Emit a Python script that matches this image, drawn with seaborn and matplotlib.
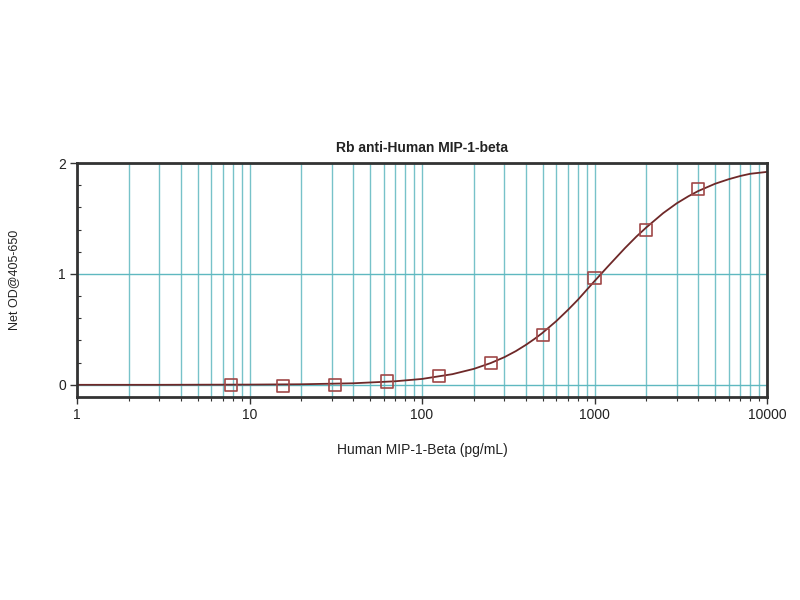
import matplotlib
matplotlib.use("Agg")
import matplotlib.pyplot as plt
import seaborn as sns
import pandas as pd
import numpy as np
from matplotlib.ticker import LogLocator, FixedLocator, MultipleLocator, NullFormatter

# Standard points (concentration pg/mL, net OD)
conc = [7.8, 15.6, 31.25, 62.5, 125, 250, 500, 1000, 2000, 4000]
od = [0.00, -0.01, 0.00, 0.03, 0.08, 0.20, 0.445, 0.96, 1.40, 1.77]

# Fitted curve
curve_x = [1, 2, 3, 5, 10, 20, 40, 70, 100, 150, 200, 250, 300, 350, 400, 450, 500,
           600, 700, 800, 1000, 1200, 1500, 1750, 2000, 2500, 3000, 3500, 4000,
           5000, 6000, 7000, 8000, 10000]
curve_y = [0.000, 0.000, 0.000, 0.001, 0.002, 0.005, 0.014, 0.032, 0.053, 0.096,
           0.144, 0.196, 0.249, 0.304, 0.360, 0.415, 0.469, 0.574, 0.674, 0.766,
           0.935, 1.070, 1.232, 1.337, 1.420, 1.548, 1.637, 1.700, 1.748, 1.813,
           1.854, 1.883, 1.903, 1.920]

title = "Rb anti-Human MIP-1-beta"
xlabel = "Human MIP-1-Beta (pg/mL)"
ylabel = "Net OD@405-650"

sns.set_theme(style="white")
plt.rcParams['font.family'] = ['Liberation Sans', 'DejaVu Sans']

fig = plt.figure(figsize=(8, 6), dpi=100)
ax = fig.add_axes([0.09625, 0.3383, 0.8625, 0.3900])

ax.set_xscale("log")
ax.set_xlim(1, 10000)
ax.set_ylim(-0.11, 2.0)

grid_col = "#5fb8c0"
ax.xaxis.set_major_locator(LogLocator(base=10, numticks=10))
ax.xaxis.set_minor_locator(LogLocator(base=10, subs=np.arange(2, 10), numticks=20))
ax.xaxis.set_minor_formatter(NullFormatter())
ax.yaxis.set_major_locator(FixedLocator([0, 1, 2]))
ax.yaxis.set_minor_locator(MultipleLocator(0.2))
ax.grid(True, which="both", axis="x", color=grid_col, linewidth=1.0, alpha=0.85)
ax.grid(True, which="major", axis="y", color=grid_col, linewidth=1.0)
ax.set_axisbelow(True)

curve_df = pd.DataFrame({"x": curve_x, "y": curve_y})
pts_df = pd.DataFrame({"x": conc, "y": od})
sns.lineplot(data=curve_df, x="x", y="y", ax=ax, color="#6e2828", linewidth=1.3)
sns.scatterplot(data=pts_df, x="x", y="y", ax=ax, marker="s", s=75,
                facecolor="none", edgecolor="#a04848", linewidth=1.2, zorder=5)

ax.xaxis.set_major_formatter(matplotlib.ticker.FuncFormatter(lambda v, p: f"{int(round(v))}"))

for s in ax.spines.values():
    s.set_color("#333333")
    s.set_linewidth(2.0)

ax.tick_params(axis="both", which="major", direction="out", length=5, width=1,
               color="#333333", labelsize=10, labelcolor="#222222", pad=3,
               bottom=True, left=True)
ax.tick_params(axis="x", which="minor", direction="out", length=3, width=0.8,
               color="#333333", bottom=True)
ax.tick_params(axis="y", which="minor", direction="in", length=3, width=0.8,
               color="#333333", left=True)

ax.set_title(title, fontsize=10, fontweight="bold", color="#222222", pad=8)
ax.set_xlabel(xlabel, fontsize=10, color="#222222", labelpad=15)
ax.set_ylabel(ylabel, fontsize=9, color="#222222", labelpad=27)

fig.savefig("out.png", dpi=100)
